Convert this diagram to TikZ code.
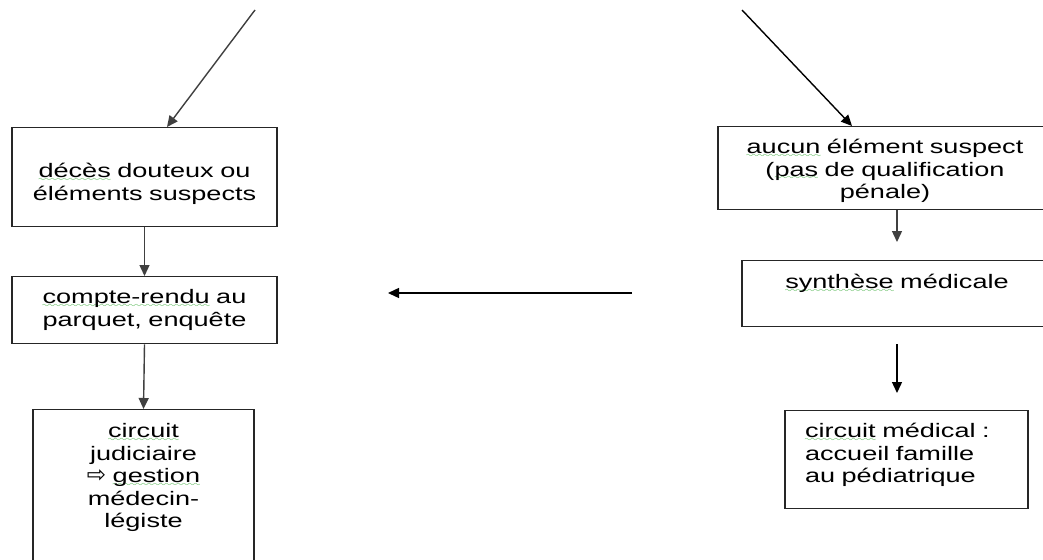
\documentclass[tikz,border=0pt]{standalone}
\usepackage{fontspec}
\usetikzlibrary{arrows.meta}
\newfontfamily\boxfont{Liberation Sans}[FakeStretch=1.39]
\newfontfamily\symbfont{DejaVu Sans}
\definecolor{spellgreen}{RGB}{40,165,40}
\font\wavyfont=lasy8
\newcommand\spellchk[1]{\setbox0\hbox{#1}\rlap{\lower3.5pt\hbox to\wd0{\color{spellgreen}\xleaders\hbox{\wavyfont\char58}\hfil}}\box0\relax}
\begin{document}
\begin{tikzpicture}[x=1pt, y=-1pt,
    boite/.style={draw=black!85, line width=1.4pt, anchor=north, inner xsep=0pt, inner ysep=0pt,
      align=center, font=\boxfont\fontsize{19.5}{22.5}\selectfont},
    fleche/.style={-{Triangle[length=11pt,width=10pt]}, line width=1.4pt, draw=black!75}]
    \useasboundingbox (0,0) rectangle (1043,559);
    \fill[white] (0,0) rectangle (1043,559);
    \clip (0,0) rectangle (1043,559);

    % Branche de gauche
    \node[boite, text width=265pt, text height=50pt, text depth=49pt] (dub) at (144.5,127)
        {\spellchk{décès} douteux ou\\éléments suspects};
    \node[boite, text width=265pt, text height=27pt, text depth=40pt] (cr) at (144.5,276)
        {\spellchk{compte-rendu} au\\parquet, enquête};
    \node[boite, text width=221pt, text height=28pt, text depth=161pt] (cj) at (143.5,409)
        {\spellchk{circuit}\\judiciaire\\{\symbfont\fontsize{23}{22.5}\selectfont ⇨} \spellchk{gestion}\\médecin-\\légiste};

    % Branche de droite
    \node[boite, text width=334pt, text height=27pt, text depth=56pt] (aes) at (885,126)
        {\spellchk{aucun} élément suspect\\(\spellchk{pas} de qualification\\pénale)};
    \node[boite, text width=310pt, text height=28pt, text depth=38pt] (sm) at (897,260)
        {\spellchk{synthèse} médicale};
    \node[boite, align=left, inner xsep=20pt, text width=203pt, text height=27pt, text depth=71pt] (cm) at (906.5,410)
        {\spellchk{circuit} médical :\\accueil famille\\au pédiatrique};

    % Extrémités libres
    \coordinate (dubin) at (255,10);
    \coordinate (aesin) at (742,10);
    \coordinate (hfrom) at (632,293);
    \coordinate (hto) at (388,293);

    % Flèches
    \draw[fleche] (dubin) -- ([xshift=22.5pt]dub.north);
    \draw[fleche] (dub.south) -- (cr.north);
    \draw[fleche] (cr.south) -- (cj.north);
    \draw[fleche, draw=black] (aesin) -- ([xshift=-33pt]aes.north);
    \draw[fleche, shorten >=18pt] (aes.south -| sm.north) -- (sm.north);
    \draw[fleche, draw=black, shorten <=17pt, shorten >=17pt] (sm.south) -- (sm.south |- cm.north);
    \draw[fleche, draw=black] (hfrom) -- (hto);
\end{tikzpicture}
\end{document}
